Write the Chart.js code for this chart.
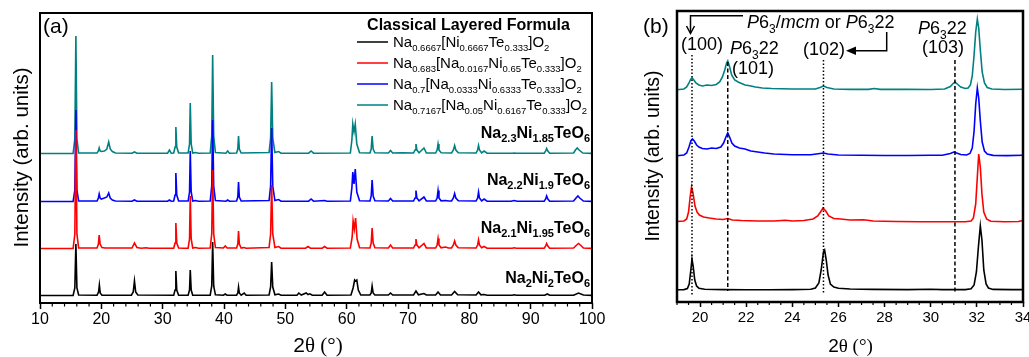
<!DOCTYPE html>
<html><head><meta charset="utf-8">
<script src="https://cdn.jsdelivr.net/npm/chart.js@4.4.1/dist/chart.umd.min.js"></script>
<style>
html,body{margin:0;padding:0;background:#fff;overflow:hidden;width:1029px;height:357px;}
canvas{position:absolute;top:0;}
#ca{left:0;} #cb{left:610px;}
</style></head><body>
<canvas id="ca" width="610" height="357"></canvas>
<canvas id="cb" width="440" height="357"></canvas>
<script>
// ---------------- DATA ----------------
const formulaNames = ['Na_{0.6667}[Ni_{0.6667}Te_{0.333}]O_{2}','Na_{0.683}[Na_{0.0167}Ni_{0.65}Te_{0.333}]O_{2}','Na_{0.7}[Na_{0.0333}Ni_{0.6333}Te_{0.333}]O_{2}','Na_{0.7167}[Na_{0.05}Ni_{0.6167}Te_{0.333}]O_{2}'];
const sampleNames = ['Na_{2}Ni_{2}TeO_{6}','Na_{2.1}Ni_{1.95}TeO_{6}','Na_{2.2}Ni_{1.9}TeO_{6}','Na_{2.3}Ni_{1.85}TeO_{6}'];
const seriesColors = ['#000000','#ff0000','#0000ff','#008080'];
const xTicksA = [10,20,30,40,50,60,70,80,90,100];
const xTicksB = [20,22,24,26,28,30,32,34];
const offsetsA = [7,54,101,149];
const offsetsB = [12,80,146,212];
const refLineX = [19.65,21.2,25.35,31.05];
const refLineTop = [247,240,242,242];
const refLineBottom = [7,11,9,10];

// panel (a) : [2theta, intensity]
const aBlack = [[10,0.5],[15.4,0.6],[15.68,8],[15.85,52],[16.02,8],[16.3,1],
[19.3,0.8],[19.55,4],[19.68,11],[19.82,3],[20.1,0.8],
[24.9,0.8],[25.2,4],[25.4,15],[25.6,4],[25.95,1],
[31.8,0.8],[32.02,6],[32.15,25],[32.3,6],[32.6,0.8],
[34.15,0.8],[34.38,6],[34.5,26],[34.65,6],[34.9,0.8],
[37.75,0.8],[38.0,10],[38.15,54],[38.32,10],[38.6,1.2],
[39.9,0.8],[40.2,2],[40.5,0.8],
[42.05,0.8],[42.25,3],[42.37,9],[42.5,3],[42.8,0.8],[43.3,3],[43.6,0.8],
[47.35,1],[47.6,9],[47.77,34],[47.95,9],[48.3,1.2],[48.9,2],[49.3,0.8],
[51.9,0.8],[52.2,3],[52.6,1],[53.4,3],[53.7,1.5],[54.0,2.2],[54.4,0.8],
[56.0,0.8],[56.4,4],[56.8,0.8],
[60.7,1],[61.05,8],[61.3,16],[61.45,15],[61.65,16],[61.9,6],[62.3,1],
[63.8,1],[64.0,3],[64.15,10],[64.32,3],[64.6,1],
[66.8,1],[67.15,3],[67.5,1],
[70.9,1],[71.3,5],[71.7,1.2],[72.6,2.5],[73,1],
[74.5,1],[74.9,4],[75.3,1],
[77.1,1],[77.6,4.5],[78.1,1.2],
[81.1,1],[81.5,4],[81.9,1.2],[82.4,1.5],[82.9,0.8],
[87,0.8],[87.3,1.2],[87.7,0.8],
[92.3,0.8],[92.7,2],[93.1,0.8],
[97.0,0.8],[97.8,3],[98.6,1],[100,0.6]];

const aRed = [[10,0.5],[15.4,0.6],[15.68,15],[15.85,119],[16.02,15],[16.3,1],
[19.3,1],[19.52,5],[19.65,14],[19.8,5],[20.1,1.5],[20.6,1],
[25.0,1],[25.4,6],[25.8,1.5],[26.5,0.8],[27.3,1.2],[27.8,0.8],
[31.8,0.8],[32.02,6],[32.15,26],[32.3,6],[32.6,1],[33.4,0.8],
[34.15,0.8],[34.38,10],[34.5,53],[34.65,10],[34.9,1],[35.4,1.5],[35.8,0.8],
[37.75,1],[38.0,15],[38.15,79],[38.32,15],[38.6,1.5],
[39.9,1],[40.2,3],[40.5,1],
[42.05,1],[42.25,5],[42.37,18],[42.5,5],[42.8,1],[43.3,1.5],[43.6,0.8],
[47.35,1.5],[47.6,15],[47.77,64],[47.95,15],[48.3,1.5],[48.9,2.5],[49.3,0.8],
[53.3,0.8],[53.7,2.5],[54.1,0.8],[56.0,0.8],[56.4,2.5],[56.8,0.8],
[60.6,1],[60.9,12],[61.05,28],[61.25,20],[61.45,31],[61.7,10],[62.1,1.2],
[63.8,1],[64.0,6],[64.15,21],[64.32,6],[64.6,1.2],
[66.8,1],[67.15,4],[67.5,1],
[70.9,1],[71.15,4],[71.3,10],[71.45,4],[71.8,1.2],[72.6,5.5],[73,1],
[74.5,1],[74.75,4],[74.9,10.5],[75.05,4],[75.4,1.2],[76.1,2],[76.6,1],
[77.1,1],[77.4,4],[77.6,8],[77.8,4],[78.2,1.2],
[81.1,1],[81.35,4],[81.5,9],[81.65,4],[82.0,1.2],[82.4,2.5],[82.9,0.8],
[87,0.8],[87.3,1.2],[87.7,0.8],
[92.2,0.8],[92.45,3],[92.6,5.5],[92.8,3],[93.1,0.8],
[97.0,1],[97.5,4],[97.8,5.5],[98.1,4],[98.6,1],[100,0.6]];

const aBlue = [[10,0.5],[15.4,0.6],[15.68,12],[15.85,92],[16.02,12],[16.3,1],
[19.3,1],[19.52,4],[19.65,8],[19.8,4],[20.0,3],[20.5,4],[20.9,5],[21.2,9],[21.45,4],[21.8,2],[22.3,1],
[25.0,0.8],[25.4,2],[25.8,0.8],
[30.8,0.8],[31.1,2],[31.4,0.8],
[31.8,1],[32.02,7],[32.15,29],[32.3,7],[32.6,1],
[34.15,1],[34.38,10],[34.5,51],[34.65,10],[34.9,1],[35.4,1.5],[35.8,0.8],
[37.75,1],[38.0,16],[38.15,82],[38.32,16],[38.6,1.5],
[40.3,0.8],[40.6,2],[40.9,0.8],
[42.05,1],[42.25,5],[42.37,20],[42.5,5],[42.8,1],
[47.35,1.5],[47.6,16],[47.77,74],[47.95,16],[48.3,1.5],[48.9,2.5],[49.3,0.8],
[53.8,0.8],[54.2,3],[54.6,0.8],[56.4,1.5],[56.8,0.8],
[60.6,1],[60.85,14],[61.0,30],[61.2,18],[61.4,33],[61.65,10],[62.1,1.2],
[63.8,1],[64.0,6],[64.15,22],[64.32,6],[64.6,1.2],
[66.8,1],[67.15,3.5],[67.5,1],
[70.9,1],[71.15,4],[71.3,11.5],[71.45,4],[71.8,1.2],[72.6,5],[73,1],
[74.5,1],[74.75,4],[74.9,11.5],[75.05,4],[75.4,1.2],[76.1,1.5],[76.6,1],
[77.1,1],[77.4,4],[77.6,8.5],[77.8,4],[78.2,1.2],
[81.1,1],[81.35,4],[81.5,10],[81.65,4],[82.0,1.2],[82.4,3],[82.9,0.8],
[86.8,0.8],[87.3,1.5],[87.8,0.8],
[92.2,0.8],[92.45,3],[92.6,6],[92.8,3],[93.1,0.8],
[97.0,1],[97.4,4],[97.7,6],[98.0,4],[98.6,1],[100,0.6]];

const aTeal = [[10,0.5],[15.4,0.6],[15.68,15],[15.85,118],[16.02,15],[16.3,1],
[19.3,1],[19.52,3],[19.65,6],[19.8,3],[20.0,2.5],[20.5,3],[20.9,5],[21.2,12],[21.45,5],[21.8,2.5],[22.3,1],
[25.0,0.8],[25.4,2],[25.8,0.8],
[30.8,0.8],[31.1,4],[31.4,0.8],
[31.8,1],[32.02,7],[32.15,27],[32.3,7],[32.6,1],
[34.15,1],[34.38,10],[34.5,51],[34.65,10],[34.9,1],[35.4,1.5],[35.8,0.8],
[37.75,1],[38.0,18],[38.15,99],[38.32,18],[38.6,1.5],
[40.3,0.8],[40.6,3],[40.9,0.8],
[42.05,1],[42.25,5],[42.37,18],[42.5,5],[42.8,1],
[47.35,1.5],[47.6,16],[47.77,72],[47.95,16],[48.3,1.5],[48.9,2.5],[49.3,0.8],
[53.8,0.8],[54.2,3],[54.6,0.8],
[60.6,1],[60.85,14],[61.0,30],[61.2,22],[61.4,30],[61.65,10],[62.1,1.2],
[63.8,1],[64.0,5],[64.15,18],[64.32,5],[64.6,1.2],
[66.8,1],[67.15,3.5],[67.5,1],[69,1.2],
[70.9,1],[71.15,4],[71.3,10],[71.45,4],[71.8,1.2],[72.6,6],[73,1],
[74.5,1],[74.75,4],[74.9,10],[75.05,4],[75.4,1.2],
[77.1,1],[77.4,4],[77.6,8.5],[77.8,4],[78.2,1.2],
[81.1,1],[81.35,4],[81.5,8.5],[81.65,4],[82.0,1.2],[82.4,3],[82.9,0.8],
[87,0.8],[87.3,1],[87.7,0.8],
[92.2,0.8],[92.45,3],[92.6,5.5],[92.8,3],[93.1,0.8],
[97.0,1],[97.3,4],[97.6,6],[97.9,4],[98.5,1],[100,0.6]];

// panel (b)
const bBlack = [[19,0.3],[19.3,0.4],[19.45,1.5],[19.53,6],[19.6,20],[19.65,31],[19.7,24],[19.77,10],[19.85,4],[19.95,1.8],[20.2,0.8],[21,0.4],[22,0.3],[23,0.3],[24,0.4],[24.8,0.8],[25.0,2],[25.15,7],[25.25,20],[25.35,38],[25.4,40],[25.47,30],[25.55,15],[25.65,6],[25.8,3],[26.0,1.8],[26.5,1],[27.5,0.6],[29,0.4],[30,0.8],[30.5,0.4],[31.5,0.4],[31.75,1.2],[31.88,5],[31.98,18],[32.07,44],[32.15,64],[32.22,50],[32.3,20],[32.4,6],[32.5,2],[32.7,0.6],[33.5,0.4],[34,0.4]];
const bRed = [[19,0.5],[19.3,1],[19.42,3],[19.5,10],[19.57,25],[19.63,35],[19.7,28],[19.78,16],[19.87,10],[19.97,7],[20.15,5],[20.4,4],[20.7,3],[21.0,2.5],[21.2,3.5],[21.4,2],[21.8,1.5],[22.5,1],[23.2,1],[23.7,1.8],[24.0,1],[24.5,1.5],[24.9,3],[25.1,6],[25.22,10],[25.33,14],[25.45,11],[25.58,6],[25.8,3.5],[26.1,3],[26.5,2],[27.1,2.2],[27.5,1],[28.5,0.5],[29.5,0.3],[30.5,0.2],[31.5,0.2],[31.75,1],[31.85,4],[31.95,18],[32.02,45],[32.08,68],[32.15,55],[32.22,28],[32.3,10],[32.42,3],[32.6,0.8],[33.2,0.3],[33.8,0.5],[34,1.5]];
const bBlue = [[19,0.3],[19.3,1],[19.42,3],[19.52,9],[19.6,15],[19.67,17],[19.75,15],[19.85,11],[19.95,9],[20.1,7.5],[20.3,7],[20.5,8],[20.7,7.5],[20.9,9],[21.02,13],[21.12,19],[21.2,23],[21.28,19],[21.38,13],[21.5,10],[21.7,8],[21.95,7],[22.2,5],[22.5,4],[22.8,3],[23.2,2],[24,1.2],[24.8,1.2],[25.2,2.5],[25.35,3],[25.55,2],[26,1],[27,0.8],[28,0.5],[29,0.5],[30,0.8],[30.5,0.8],[30.85,2.5],[31.0,4],[31.12,3],[31.3,1.5],[31.55,1],[31.7,2.5],[31.8,8],[31.88,25],[31.95,52],[32.02,68],[32.08,58],[32.15,35],[32.23,14],[32.33,5],[32.45,2],[32.7,0.6],[33.3,0.4],[34,0.8]];
const bTeal = [[19,0.3],[19.3,1],[19.42,3],[19.52,7],[19.6,11],[19.66,12],[19.73,10],[19.82,7],[19.95,5],[20.1,4],[20.3,5],[20.5,4.5],[20.7,5.5],[20.85,8],[20.97,13],[21.07,20],[21.15,27],[21.2,29],[21.27,24],[21.37,15],[21.5,10],[21.65,8],[21.8,6.5],[21.95,5],[22.1,4.5],[22.4,3],[22.7,2],[23.1,1.5],[24,1],[25,1],[25.2,2.5],[25.35,4],[25.5,2.5],[25.8,1],[26.5,0.6],[27.3,0.6],[27.55,1.5],[27.8,0.6],[29,0.6],[30,0.5],[30.6,1],[30.85,3.5],[30.97,6.5],[31.05,8],[31.15,6],[31.3,3],[31.5,1.5],[31.62,2],[31.72,5],[31.8,14],[31.88,35],[31.95,58],[32.02,71],[32.08,62],[32.15,40],[32.23,18],[32.33,7],[32.45,2.5],[32.65,1],[33.2,0.5],[34,0.8]];

// ---------------- RENDERING ----------------
const FONT_SANS = '"Liberation Sans", Arial, Helvetica, sans-serif';
const FONT_SERIF = '"Liberation Serif", "Times New Roman", serif';
Chart.defaults.font.family = FONT_SANS;
Chart.defaults.color = '#000';

function parseRich(s){
  const segs=[]; let it=false, se=false, buf='', i=0;
  const push=(sub)=>{ if(buf){segs.push({t:buf,sub:sub,it:it,se:se}); buf='';} };
  while(i<s.length){
    const c=s[i];
    if(c==='_' && s[i+1]==='{'){ push(false); const j=s.indexOf('}',i); buf=s.slice(i+2,j); push(true); i=j+1; continue; }
    if(c==='*'){ push(false); it=!it; i++; continue; }
    if(c==='~'){ push(false); se=!se; i++; continue; }
    buf+=c; i++;
  }
  push(false);
  return segs;
}
function fontOf(seg,o){
  const sz = seg.sub ? (o.sub||o.size*0.65) : o.size;
  return (seg.it?'italic ':'')+(o.bold?'bold ':'')+sz+'px '+(seg.se?FONT_SERIF:FONT_SANS);
}
function drawRich(ctx,str,x,y,o){
  const segs=parseRich(str);
  ctx.save();
  ctx.textBaseline='alphabetic'; ctx.textAlign='left'; ctx.fillStyle=o.color||'#000';
  let w=0; segs.forEach(s=>{ctx.font=fontOf(s,o); s.w=ctx.measureText(s.t).width; w+=s.w;});
  let cx = o.align==='right'? x-w : (o.align==='center'? x-w/2 : x);
  const dy = o.dy!==undefined ? o.dy : o.size*0.28;
  segs.forEach(s=>{ctx.font=fontOf(s,o); ctx.fillText(s.t,cx,y+(s.sub?dy:0)); cx+=s.w;});
  ctx.restore();
}
function drawRichRot(ctx,str,x,y,o){ctx.save();ctx.translate(x,y);ctx.rotate(-Math.PI/2);drawRich(ctx,str,0,0,o);ctx.restore();}

function mk(pts,off,color,label){
  return {label:label, data:pts.map(p=>({x:p[0],y:p[1]+off})), borderColor:color, borderWidth:1.6,
          pointRadius:0, fill:false, tension:0};
}
function frame(lw){
  return {id:'frame', afterDatasetsDraw(ch){const a=ch.chartArea,c=ch.ctx;c.save();c.strokeStyle='#000';c.lineWidth=lw;
    c.strokeRect(a.left,a.top,a.right-a.left,a.bottom-a.top);c.restore();}};
}
function minor(vals,len,lw){
  return {id:'minor', afterDraw(ch){const x=ch.scales.x,b=ch.chartArea.bottom,c=ch.ctx;c.save();c.strokeStyle='#000';c.lineWidth=lw;
    vals.forEach(v=>{const px=x.getPixelForValue(v);c.beginPath();c.moveTo(px,b);c.lineTo(px,b+len);c.stroke();});c.restore();}};
}
const minorA=[]; for(let v=10; v<=100; v+=2){ if(v%10!==0) minorA.push(v); }
const minorB=[]; for(let v=19; v<=34; v+=0.5){ if(!xTicksB.includes(v)) minorB.push(v); }

const dsA=[aBlack,aRed,aBlue,aTeal].map((d,i)=>mk(d,offsetsA[i],seriesColors[i],sampleNames[i]));
const dsB=[bBlack,bRed,bBlue,bTeal].map((d,i)=>mk(d,offsetsB[i],seriesColors[i],sampleNames[i]));

const textA={id:'textA', afterDraw(ch){
  const c=ch.ctx;
  drawRich(c,'(a)',43,32.5,{size:21});
  drawRich(c,'Classical Layered Formula',468.5,30,{size:16,bold:true,align:'center'});
  formulaNames.forEach((n,i)=>{
    const y=42+21*i;
    c.save();c.strokeStyle=seriesColors[i];c.lineWidth=1.5;c.beginPath();c.moveTo(357,y);c.lineTo(388,y);c.stroke();c.restore();
    drawRich(c,n,393,y+5,{size:15,sub:9.5,dy:3.5});
  });
  const by=[283,233,184.5,138];
  sampleNames.forEach((n,i)=>drawRich(c,n,590,by[i],{size:16,sub:11,dy:4,bold:true,align:'right'}));
  drawRichRot(c,'Intensity (arb. units)',27.5,157.5,{size:20.5,align:'center'});
  drawRich(c,'2~θ (°)~',318,352,{size:21,align:'center'});
}};

const refB={id:'refB', afterDatasetsDraw(ch){
  const c=ch.ctx,x=ch.scales.x,y=ch.scales.y;
  c.save();c.strokeStyle='#000';c.lineWidth=1.5;
  refLineX.forEach((v,i)=>{
    c.setLineDash(i%2===0?[1.5,2]:[4,2.5]);
    const px=x.getPixelForValue(v);
    c.beginPath();c.moveTo(px,y.getPixelForValue(refLineTop[i]));c.lineTo(px,y.getPixelForValue(refLineBottom[i]));c.stroke();
  });
  c.restore();
}};
const textB={id:'textB', afterDraw(ch){
  const c=ch.ctx; c.save(); c.translate(-610,0);
  drawRich(c,'(b)',643,32.5,{size:21});
  drawRich(c,'*P*6_{3}/*mcm* or *P*6_{3}22',747,28,{size:18,sub:12,dy:5});
  drawRich(c,'(100)',681,49.5,{size:18});
  drawRich(c,'*P*6_{3}22',730,53.5,{size:18,sub:12,dy:5});
  drawRich(c,'(101)',732,73.5,{size:18});
  drawRich(c,'(102)',803,55,{size:18});
  drawRich(c,'*P*6_{3}22',918,33.5,{size:18,sub:12,dy:5});
  drawRich(c,'(103)',922,53,{size:18});
  // arrows
  c.strokeStyle='#000'; c.fillStyle='#000'; c.lineWidth=1.5;
  c.beginPath(); c.moveTo(743,15.7); c.lineTo(690.5,15.7); c.lineTo(690.5,33); c.stroke();
  c.beginPath(); c.moveTo(686.5,26); c.lineTo(690.5,33.5); c.lineTo(694.5,26); c.stroke();
  c.beginPath(); c.moveTo(886.7,32); c.lineTo(886.7,50.7); c.lineTo(852,50.7); c.stroke();
  c.beginPath(); c.moveTo(846,50.7); c.lineTo(856,46.5); c.lineTo(856,54.9); c.closePath(); c.fill();
  drawRichRot(c,'Intensity (arb. units)',659,156,{size:19.5,align:'center'});
  drawRich(c,'2~θ (°)~',850.5,352,{size:19,align:'center'});
  c.restore();
}};

new Chart(document.getElementById('ca'),{
  type:'line',
  data:{datasets:dsA},
  options:{
    responsive:false, animation:false, devicePixelRatio:1,
    layout:{padding:{left:40,top:13,right:18,bottom:0}},
    plugins:{legend:{display:false},tooltip:{enabled:false}},
    scales:{
      x:{type:'linear',min:10,max:100,
         afterBuildTicks:s=>{s.ticks=xTicksA.map(v=>({value:v}));},
         afterFit:s=>{s.height=54;},
         ticks:{font:{size:16},color:'#000',padding:1,maxRotation:0,autoSkip:false},
         grid:{display:true,drawOnChartArea:false,drawTicks:true,tickLength:6,tickWidth:1.5,tickColor:'#000'},
         border:{display:false}},
      y:{display:false,min:0,max:290}
    }
  },
  plugins:[frame(2),minor(minorA,3.5,1.2),textA]
});

new Chart(document.getElementById('cb'),{
  type:'line',
  data:{datasets:dsB},
  options:{
    responsive:false, animation:false, devicePixelRatio:1,
    layout:{padding:{left:67,top:11,right:27,bottom:0}},
    plugins:{legend:{display:false},tooltip:{enabled:false}},
    scales:{
      x:{type:'linear',min:19,max:34,
         afterBuildTicks:s=>{s.ticks=xTicksB.map(v=>({value:v}));},
         afterFit:s=>{s.height=55;},
         ticks:{font:{size:15},color:'#000',padding:2,maxRotation:0,autoSkip:false},
         grid:{display:true,drawOnChartArea:false,drawTicks:true,tickLength:5,tickWidth:1.5,tickColor:'#000'},
         border:{display:false}},
      y:{display:false,min:0,max:291}
    }
  },
  plugins:[refB,frame(2.5),minor(minorB,3,1.2),textB]
});
</script>
</body></html>
